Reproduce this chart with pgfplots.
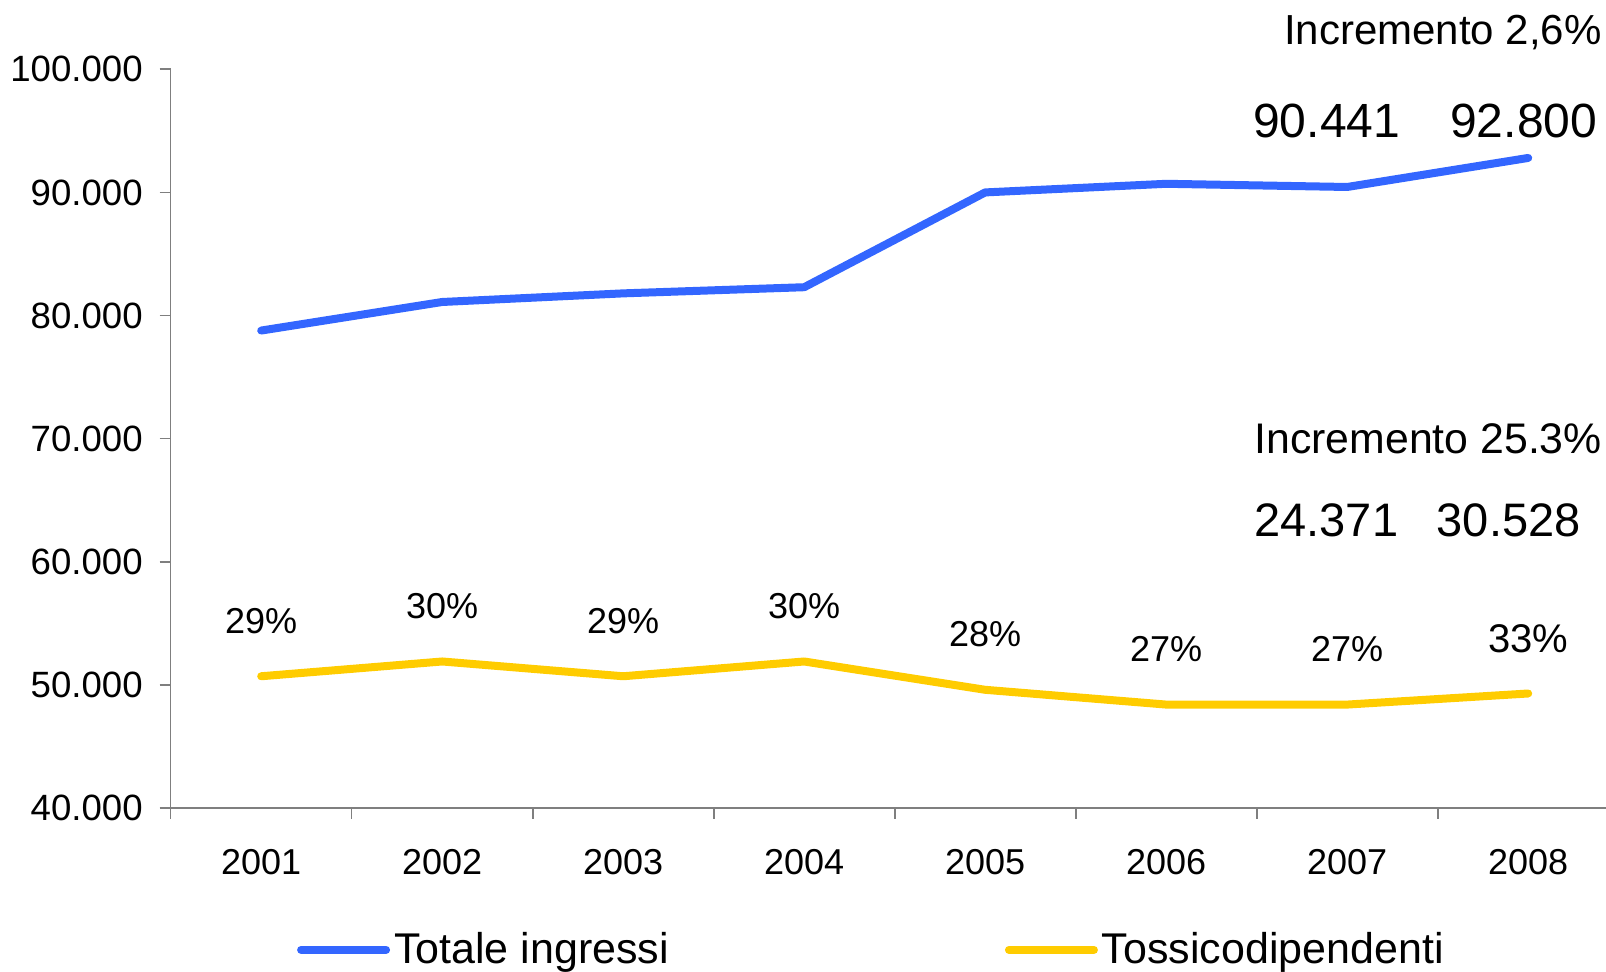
\documentclass[border=0pt]{standalone}
\usepackage{pgfplots}
\pgfplotsset{compat=1.18}
\usepackage{fontspec}
\setmainfont{Liberation Sans}

\definecolor{blu}{HTML}{3366FF}
\definecolor{giallo}{HTML}{FFCC00}
\definecolor{assi}{HTML}{7F7F7F}

\begin{document}
\begin{tikzpicture}
\begin{axis}[
  scale only axis,
  width=724pt, height=369.35pt,
  xmin=0.5, xmax=8.5,
  ymin=40000, ymax=100000,
  clip=false,
  axis x line=bottom, axis y line=left,
  axis line style={-, draw=assi, line width=0.8pt},
  tick style={draw=assi, line width=0.8pt},
  tick align=outside,
  major tick length=5.5pt,
  xtick={0.5,1.5,...,7.5},
  xticklabels={2001,2002,2003,2004,2005,2006,2007,2008},
  xticklabel style={anchor=north, xshift=45.25pt, yshift=-11.8pt,
    font=\fontsize{18}{22}\selectfont},
  ytick={40000,50000,60000,70000,80000,90000,100000},
  yticklabels={40.000,50.000,60.000,70.000,80.000,90.000,100.000},
  scaled y ticks=false,
  yticklabel style={anchor=east, xshift=-5pt,
    font=\fontsize{18.3}{22}\selectfont},
  legend columns=2,
  legend style={at={(0.087,-0.192)}, anchor=west, draw=none, fill=none,
    inner sep=0pt, font=\fontsize{21.5}{26}\selectfont,
    /tikz/every even column/.append style={column sep=166pt}},
  legend image code/.code={\draw[#1, line width=4pt, line cap=round]
    (0pt,0pt) -- (42.5pt,0pt);},
]
\addplot[blu, line width=4pt, line cap=round, line join=round]
  coordinates {(1,78780) (2,81100) (3,81800) (4,82300)
               (5,90000) (6,90700) (7,90441) (8,92800)};
\addlegendentry{Totale ingressi}

\addplot[giallo, line width=4pt, line cap=round, line join=round,
  nodes near coords, point meta=explicit symbolic,
  every node near coord/.append style={anchor=center, yshift=27.6pt,
    text=black, font=\fontsize{18}{22}\selectfont}]
  coordinates {(1,50700)[29\%] (2,51900)[30\%] (3,50700)[29\%] (4,51900)[30\%]
               (5,49600)[28\%] (6,48400)[27\%] (7,48400)[27\%]
               (8,49300)[{\fontsize{20}{24}\selectfont 33\%}]};
\addlegendentry{Tossicodipendenti}
\end{axis}

\node[anchor=base east, inner sep=0pt, font=\fontsize{21}{25}\selectfont]
  at (715.7pt,381.5pt) {Incremento 2,6\%};
\node[anchor=base, inner sep=0pt, font=\fontsize{24}{29}\selectfont]
  at (578pt,335pt) {90.441};
\node[anchor=base, inner sep=0pt, font=\fontsize{24}{29}\selectfont]
  at (676.5pt,335pt) {92.800};
\node[anchor=base east, inner sep=0pt, font=\fontsize{21.4}{26}\selectfont]
  at (715.8pt,177.35pt) {Incremento 25.3\%};
\node[anchor=base, inner sep=0pt, font=\fontsize{23.5}{28}\selectfont]
  at (577.8pt,135.65pt) {24.371};
\node[anchor=base, inner sep=0pt, font=\fontsize{23.5}{28}\selectfont]
  at (669pt,135.65pt) {30.528};

\pgfresetboundingbox
\useasboundingbox (-85.35pt,-82pt) rectangle (717.65pt,404pt);
\end{tikzpicture}
\end{document}
